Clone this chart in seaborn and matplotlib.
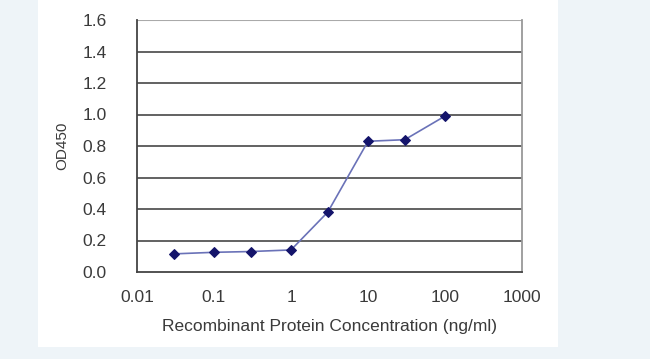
import numpy as np
import pandas as pd
import matplotlib
matplotlib.use("Agg")
import matplotlib.pyplot as plt
import seaborn as sns
from matplotlib.patches import Rectangle
from matplotlib.ticker import FixedLocator, FixedFormatter, NullLocator

# ── DATA ────────────────────────────────────────────────────
concentration = [0.03, 0.1, 0.3, 1, 3, 10, 30, 100]
od450 = [0.115, 0.125, 0.13, 0.14, 0.38, 0.83, 0.84, 0.99]
x_ticks = [0.01, 0.1, 1, 10, 100, 1000]
x_tick_labels = ["0.01", "0.1", "1", "10", "100", "1000"]
y_ticks = [0.0, 0.2, 0.4, 0.6, 0.8, 1.0, 1.2, 1.4, 1.6]

df = pd.DataFrame({"conc": concentration, "od": od450})

sns.set_theme(style="white")
plt.rcParams['font.family'] = ['Liberation Sans', 'DejaVu Sans']
text_col = "#3a3a3a"

fig = plt.figure(figsize=(6.5, 3.59), dpi=100)
fig.patch.set_facecolor("#eef4f8")
# white card behind the chart
card = Rectangle((38 / 650, 12 / 359), 520 / 650, 347 / 359,
                 transform=fig.transFigure, facecolor="white",
                 edgecolor="none", zorder=-5)
fig.add_artist(card)

ax = fig.add_axes([137 / 650, 87 / 359, 385 / 650, 252 / 359])
ax.set_zorder(2)
ax.set_facecolor("white")

sns.lineplot(data=df, x="conc", y="od", ax=ax, color="#6a72b8", linewidth=1.2,
             marker="D", markersize=5, markerfacecolor="#14146b",
             markeredgecolor="#14146b", zorder=3)

ax.set_xscale("log")
ax.set_xlim(0.01, 1000)
ax.set_ylim(0, 1.6)
ax.xaxis.set_major_locator(FixedLocator(x_ticks))
ax.xaxis.set_major_formatter(FixedFormatter(x_tick_labels))
ax.xaxis.set_minor_locator(NullLocator())
ax.set_yticks(y_ticks)
ax.set_yticklabels([f"{v:.1f}" for v in y_ticks])

for v in y_ticks[1:-1]:
    ax.axhline(v, color="#555555", linewidth=1.3, zorder=1)
ax.axhline(y_ticks[-1], color="#aaaaaa", linewidth=1.5, zorder=1)

ax.tick_params(axis="x", direction="in", length=3, width=1, color="#555555",
               labelsize=12.5, labelcolor=text_col, pad=13)
ax.tick_params(axis="y", length=0, labelsize=12.5, labelcolor=text_col, pad=22)

ax.spines["left"].set_color("#444444")
ax.spines["left"].set_linewidth(1.3)
ax.spines["bottom"].set_color("#444444")
ax.spines["bottom"].set_linewidth(1.3)
ax.spines["top"].set_visible(False)
ax.spines["right"].set_color("#999999")
ax.spines["right"].set_linewidth(1.3)

ax.set_xlabel("Recombinant Protein Concentration (ng/ml)", fontsize=12.5,
              color=text_col, labelpad=10)
ax.set_ylabel("OD450", fontsize=11, color=text_col, labelpad=9)

fig.savefig("out.png", dpi=100, facecolor=fig.get_facecolor())
